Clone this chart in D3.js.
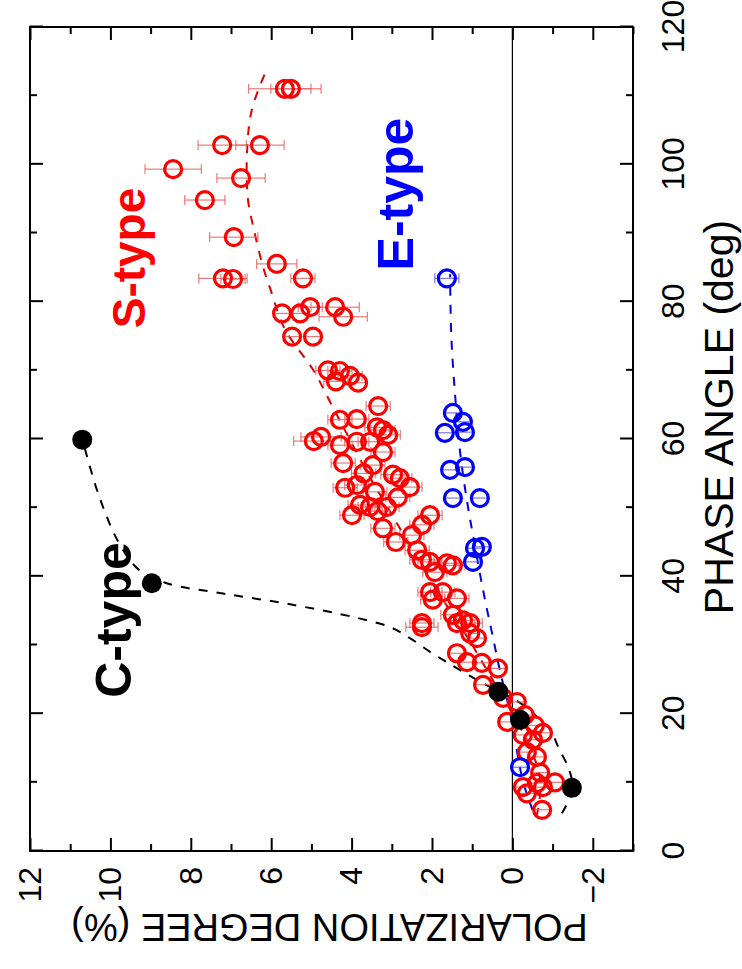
<!DOCTYPE html>
<html><head><meta charset="utf-8">
<script src="https://cdn.jsdelivr.net/npm/d3@7"></script>
<style>body{margin:0;background:#fff}svg{display:block}text{font-family:"Liberation Sans",Arial,Helvetica,sans-serif}</style>
</head><body>
<script>
// Phase angle (deg), polarization degree (%), error (%)
const sType = [
 [111.0,5.66,0.9],[111.0,5.51,0.5],[102.8,7.22,0.6],[102.8,6.28,0.6],[99.3,8.44,0.7],[98.0,6.75,0.6],
 [94.8,7.65,0.5],[89.4,6.93,0.6],[83.4,7.20,0.6],[83.3,6.95,0.3],[85.5,5.86,0.5],[83.4,5.21,0.3],
 [78.3,5.73,0.2],[78.3,5.28,0.2],[79.2,5.03,0.3],[79.2,4.41,0.6],[77.8,4.21,0.6],[74.9,5.48,0.2],[74.9,4.96,0.2],
 [70.0,4.59,0.3],[69.9,4.29,0.3],[69.2,4.04,0.3],[68.4,4.39,0.3],[68.2,3.84,0.2],
 [64.8,3.34,0.3],[62.9,3.87,0.3],[61.7,3.37,0.3],[61.3,3.22,0.3],[60.6,3.09,0.3],[59.6,3.87,0.3],[59.6,3.54,0.3],
 [58.1,3.22,0.3],[56.2,3.47,0.3],[54.8,2.97,0.3],[54.3,2.80,0.3],[53.0,2.55,0.3],[53.3,3.87,0.3],[52.3,3.42,0.3],
 [50.1,3.12,0.3],[50.4,3.79,0.3],[50.1,3.54,0.3],[47.0,3.22,0.3],[48.9,2.05,0.3],[47.5,2.25,0.3],[46.0,2.50,0.3],
 [43.8,2.37,0.3],[42.4,2.25,0.3],[42.1,2.05,0.3],[41.9,1.63,0.3],[41.6,1.48,0.3],[40.6,1.93,0.3],[37.7,2.05,0.3],
 [37.7,1.73,0.3],[36.8,1.38,0.3],[36.6,1.98,0.3],[34.4,1.48,0.3],[33.6,1.23,0.3],[33.2,1.05,0.3],[33.2,2.25,0.3],
 [60.3,4.76,0.5],[59.7,4.94,0.5],[59.1,4.29,0.3],[56.5,4.21,0.3],[52.9,4.16,0.3],[48.9,3.99,0.3],[62.8,4.29,0.3],
 [55.0,3.70,0.3],[51.5,2.85,0.3],[49.5,3.35,0.3],[45.0,2.90,0.3],
 [32.6,2.25,0.4],[33.2,1.38,0.2],[31.7,1.05,0.2],[31.0,0.88,0.2],[28.8,1.38,0.2],[27.5,1.13,0.2],[27.4,0.76,0.2],
 [26.6,0.36,0.2],[24.2,0.73,0.2],[22.3,0.23,0.2],[21.7,-0.11,0.2],[18.8,0.13,0.2],[19.8,-0.31,0.2],[18.3,-0.56,0.2],
 [17.2,-0.76,0.2],[16.9,-0.26,0.2],[16.2,-0.51,0.2],[14.4,-0.36,0.2],[13.7,-0.61,0.2],[11.4,-0.69,0.2],[9.3,-0.26,0.2],
 [9.9,-0.61,0.2],[9.3,-0.76,0.2],[10.0,-1.06,0.2],[8.4,-0.36,0.2],[6.0,-0.74,0.2]
];
const eType = [
 [83.4,1.63,0.3],[63.8,1.48,0.2],[62.5,1.23,0.2],[60.9,1.68,0.2],[61.0,1.18,0.2],[55.5,1.55,0.2],[55.9,1.18,0.2],
 [51.4,1.48,0.2],[51.4,0.81,0.2],[44.1,0.93,0.2],[44.3,0.76,0.2],[42.1,0.98,0.2],[12.2,-0.19,0.2]
];
const cType = [[59.9,10.7],[39.0,8.97],[23.2,0.35],[19.1,-0.19],[9.2,-1.48]];
// Fitted curves (phase angle, polarization)
const sFit = [[5,-0.6],[10,-0.7],[15,-0.45],[20,0.0],[25,0.5],[30,1.0],[35,1.55],[40,2.1],[45,2.6],[50,3.1],[55,3.6],
 [60,4.05],[65,4.5],[70,4.95],[76,5.66],[82,6.03],[85,6.2],[91,6.45],[95,6.58],[102,6.6],[108,6.48],[114,6.1]];
const eFit = [[6,-0.5],[10,-0.27],[15,-0.1],[20,0.05],[26,0.3],[31,0.48],[38,0.73],[45,0.95],[51,1.13],[58,1.3],[66,1.42],[75,1.52],[84,1.55]];
const cFit = [[5.5,-1.23],[9,-1.5],[12,-1.4],[15,-1.15],[17.6,-0.95],[19.1,-0.69],[21.3,-0.26],[24.9,0.88],[27.5,1.63],
 [29,2.05],[31,2.55],[32.6,3.04],[34,3.9],[36,5.6],[37.5,7.2],[39,8.6],[41,9.3],[45,9.8],[52,10.3],[60,10.7]];
const phaseTicks = [0,20,40,60,80,100,120];
const phaseMinor = [10,30,50,70,90,110];
const polTicks = [-2,0,2,4,6,8,10,12];
const polMinor = [-3,-1,1,3,5,7,9,11];

const W = 824, H = 603;
const svg = d3.select("body").append("svg").attr("width",742).attr("height",969);
svg.append("rect").attr("width",742).attr("height",969).attr("fill","#fff");
const g = svg.append("g").attr("transform","translate(30,851) rotate(-90)");
const x = d3.scaleLinear().domain([0,120]).range([0,W]);
const y = d3.scaleLinear().domain([-3,12]).range([H,0]);

g.append("line").attr("x1",0).attr("x2",W).attr("y1",y(0)).attr("y2",y(0)).attr("stroke","#000").attr("stroke-width",1.2);

function styleAxis(sel){ sel.select(".domain").remove(); sel.selectAll("line").attr("stroke","#000").attr("stroke-width",2);
  sel.selectAll("text").attr("fill","#000").style("font-family","'Liberation Sans',Arial,sans-serif"); }
const ax = g.append("g").attr("transform",`translate(0,${H})`)
  .call(d3.axisBottom(x).tickValues(phaseTicks).tickSize(-13).tickPadding(28).tickFormat(d3.format("d")));
styleAxis(ax); ax.selectAll("text").attr("font-size",32);
styleAxis(g.append("g").attr("transform",`translate(0,${H})`).call(d3.axisBottom(x).tickValues(phaseMinor).tickSize(-7).tickFormat("")));
styleAxis(g.append("g").call(d3.axisTop(x).tickValues(phaseTicks).tickSize(-13).tickFormat("")));
styleAxis(g.append("g").call(d3.axisTop(x).tickValues(phaseMinor).tickSize(-7).tickFormat("")));
const ay = g.append("g").call(d3.axisLeft(y).tickValues(polTicks).tickSize(-13).tickPadding(16).tickFormat(d3.format("d")));
styleAxis(ay); ay.selectAll("text").attr("font-size",32);
styleAxis(g.append("g").call(d3.axisLeft(y).tickValues(polMinor).tickSize(-7).tickFormat("")));
styleAxis(g.append("g").attr("transform",`translate(${W},0)`).call(d3.axisRight(y).tickValues(polTicks).tickSize(-13).tickFormat("")));
styleAxis(g.append("g").attr("transform",`translate(${W},0)`).call(d3.axisRight(y).tickValues(polMinor).tickSize(-7).tickFormat("")));
g.append("rect").attr("width",W).attr("height",H).attr("fill","none").attr("stroke","#000").attr("stroke-width",2);

g.append("text").attr("x",434).attr("y",H+100).attr("text-anchor","middle").attr("font-size",41).text("PHASE ANGLE (deg)");
g.append("text").attr("transform",`translate(-76,${y(4.55)}) rotate(-90)`).attr("text-anchor","middle").attr("dominant-baseline","central")
  .attr("font-size",38).text("POLARIZATION DEGREE (%)");

const line = d3.line().x(d=>x(d[0])).y(d=>y(d[1])).curve(d3.curveCatmullRom);
g.append("path").datum(sFit).attr("d",line).attr("fill","none").attr("stroke","#e00000").attr("stroke-width",2).attr("stroke-dasharray","9,9");
g.append("path").datum(eFit).attr("d",line).attr("fill","none").attr("stroke","#0000e0").attr("stroke-width",2).attr("stroke-dasharray","9,9");
g.append("path").datum(cFit).attr("d",line).attr("fill","none").attr("stroke","#000").attr("stroke-width",2).attr("stroke-dasharray","9,9");

function errbars(data,color){
  const eb = g.append("g").attr("stroke",color).attr("stroke-width",1).attr("fill","none");
  data.forEach(d=>{
    const cx=x(d[0]), y1=y(d[1]-d[2]), y2=y(d[1]+d[2]);
    eb.append("line").attr("x1",cx).attr("x2",cx).attr("y1",y1).attr("y2",y2);
    eb.append("line").attr("x1",cx-5).attr("x2",cx+5).attr("y1",y1).attr("y2",y1);
    eb.append("line").attr("x1",cx-5).attr("x2",cx+5).attr("y1",y2).attr("y2",y2);
  });
}
errbars(sType,"#e86060");
errbars(eType,"#6060e8");
g.append("g").selectAll("circle").data(sType).join("circle").attr("cx",d=>x(d[0])).attr("cy",d=>y(d[1])).attr("r",8.5)
  .attr("fill","none").attr("stroke","#f00").attr("stroke-width",3.2);
g.append("g").selectAll("circle").data(eType).join("circle").attr("cx",d=>x(d[0])).attr("cy",d=>y(d[1])).attr("r",8.5)
  .attr("fill","none").attr("stroke","#00f").attr("stroke-width",3.2);
g.append("g").selectAll("circle").data(cType).join("circle").attr("cx",d=>x(d[0])).attr("cy",d=>y(d[1])).attr("r",10).attr("fill","#000");

g.append("text").attr("x",593).attr("y",115).attr("text-anchor","middle").attr("font-size",46).attr("font-weight","bold").attr("fill","#f00").text("S-type");
g.append("text").attr("x",657).attr("y",383).attr("text-anchor","middle").attr("font-size",50).attr("font-weight","bold").attr("fill","#00f").text("E-type");
g.append("text").attr("x",231).attr("y",101).attr("text-anchor","middle").attr("font-size",50).attr("font-weight","bold").attr("fill","#000").text("C-type");
</script>
</body></html>
